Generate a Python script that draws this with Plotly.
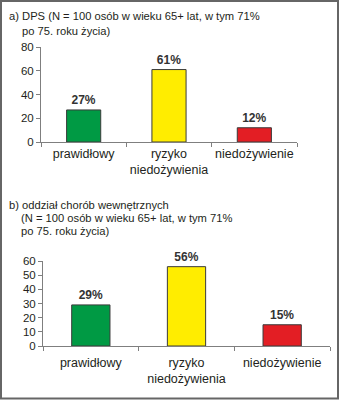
import plotly.graph_objects as go

categories = ["prawidłowy", "ryzyko<br>niedożywienia", "niedożywienie"]
values_a = [27, 61, 12]
values_b = [29, 56, 15]
colors = ["#009A44", "#FFED00", "#E31E24"]
yticks_a = [0, 20, 40, 60, 80]
yticks_b = [0, 10, 20, 30, 40, 50, 60]
title_a = ["a) DPS (N = 100 osób w wieku 65+ lat, w tym 71%", "po 75. roku życia)"]
title_b = ["b) oddział chorób wewnętrznych", "(N = 100 osób w wieku 65+ lat, w tym 71%", "po 75. roku życia)"]

W, H = 339, 400
FONT = "Liberation Sans, Arial, sans-serif"
TXT = "#231f20"
AX = "#7f7f7f"

fig = go.Figure()

for vals, xa, ya in [(values_a, "x", "y"), (values_b, "x2", "y2")]:
    fig.add_trace(go.Bar(
        x=categories, y=vals, xaxis=xa, yaxis=ya,
        marker=dict(color=colors, line=dict(color="#3a3a3a", width=1)),
        width=0.4,
        texttemplate="<b>%{y}%</b>", textposition="outside",
        textfont=dict(family=FONT, size=12, color="#333333"),
        cliponaxis=False, showlegend=False, hoverinfo="skip",
    ))

def px2x(px):
    return px / W

def px2y(py):
    return 1 - py / H

common_x = dict(type="category", tickson="boundaries", ticks="outside", ticklen=4,
                tickcolor=AX, showline=True, linecolor=AX, linewidth=1,
                showgrid=False, zeroline=False, tickangle=0, automargin=False,
                tickfont=dict(family=FONT, size=12.5, color=TXT), fixedrange=True)
common_y = dict(ticks="outside", ticklen=4, tickcolor=AX, showline=True, linecolor=AX,
                linewidth=1, showgrid=False, zeroline=False, automargin=False,
                tickfont=dict(family=FONT, size=11.5, color=TXT), fixedrange=True)

fig.update_layout(
    width=W, height=H, margin=dict(l=0, r=0, t=0, b=0),
    paper_bgcolor="white", plot_bgcolor="white",
    xaxis=dict(domain=[px2x(41), px2x(297)], anchor="y", **common_x),
    yaxis=dict(domain=[px2y(142), px2y(47)], anchor="x", range=[0, 80], tickvals=yticks_a, **common_y),
    xaxis2=dict(domain=[px2x(43), px2x(330)], anchor="y2", ticklabelstandoff=5, **common_x),
    yaxis2=dict(domain=[px2y(346), px2y(261)], anchor="x2", range=[0, 60], tickvals=yticks_b, **common_y),
    font=dict(family=FONT, color=TXT),
)

ann = []
def title(lines, positions):
    for t, (x, y) in zip(lines, positions):
        ann.append(dict(text=t, xref="paper", yref="paper", x=px2x(x), y=px2y(y),
                        xanchor="left", yanchor="middle", showarrow=False,
                        font=dict(family=FONT, size=11.2, color=TXT)))

title(title_a, [(7, 16), (20, 31)])
title(title_b, [(7, 205), (19, 218), (19, 231)])
fig.update_layout(annotations=ann)

fig.add_shape(type="rect", xref="paper", yref="paper",
              x0=px2x(1), x1=px2x(338), y0=px2y(398.5), y1=px2y(1),
              line=dict(color="#666666", width=2), fillcolor="rgba(0,0,0,0)")

fig.write_html("out.html")
